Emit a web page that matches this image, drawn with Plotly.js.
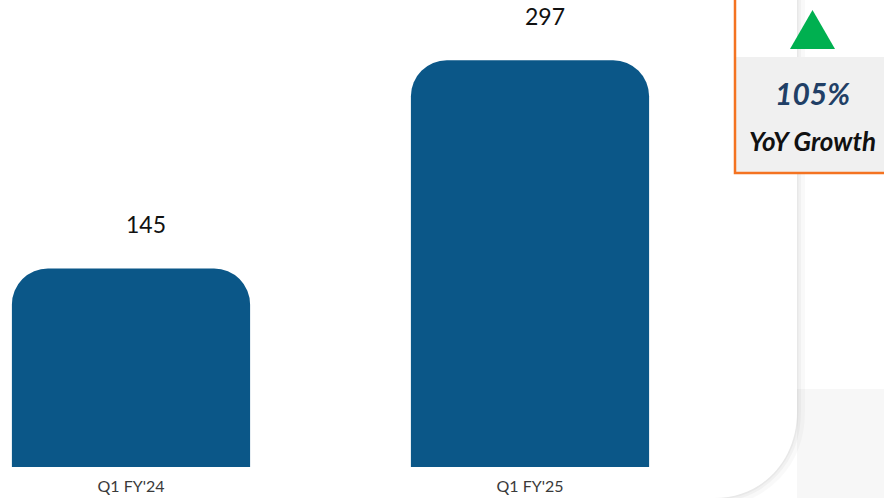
<!DOCTYPE html>
<html>
<head>
<meta charset="utf-8">
<script src="https://cdn.plot.ly/plotly-3.0.1.min.js"></script>
<style>html,body{margin:0;padding:0;background:#fff;}#chart{width:884px;height:498px;}</style>
</head>
<body>
<div id="chart"></div>
<script>
const categories = ["Q1 FY'24", "Q1 FY'25"];
const values = [145, 297];
const growthText = "105%";
const growthLabel = "YoY Growth";

const W = 884, H = 498, B = 31, PH = H - B;
const px = x => x / W;
const py = y => (PH - y) / PH;

const cardPath =
  'M ' + px(-10) + ',' + py(-10) +
  ' L ' + px(797) + ',' + py(-10) +
  ' L ' + px(797) + ',' + py(412) +
  ' C ' + px(797) + ',' + py(459) + ' ' + px(764) + ',' + py(498) + ' ' + px(714) + ',' + py(498) +
  ' L ' + px(-10) + ',' + py(498) + ' Z';

const shapes = [
  {type:'rect', xref:'paper', yref:'paper', x0:px(797), x1:px(890), y0:py(389), y1:py(505), fillcolor:'#f7f7f7', line:{width:0}, layer:'below'},
  {type:'path', xref:'paper', yref:'paper', path:cardPath, fillcolor:'rgba(0,0,0,0)', line:{color:'rgba(0,0,0,0.025)', width:16}, layer:'below'},
  {type:'path', xref:'paper', yref:'paper', path:cardPath, fillcolor:'rgba(0,0,0,0)', line:{color:'rgba(0,0,0,0.03)', width:8}, layer:'below'},
  {type:'path', xref:'paper', yref:'paper', path:cardPath, fillcolor:'rgba(0,0,0,0)', line:{color:'rgba(0,0,0,0.035)', width:3}, layer:'below'},
  {type:'path', xref:'paper', yref:'paper', path:cardPath, fillcolor:'#ffffff', line:{width:0}, layer:'below'},
  {type:'rect', xref:'paper', yref:'paper', x0:px(736), x1:px(890), y0:py(172), y1:py(57), fillcolor:'rgba(240,240,240,0.97)', line:{width:0}, layer:'above'},
  {type:'rect', xref:'paper', yref:'paper', x0:px(735), x1:px(892), y0:py(173), y1:py(-10), fillcolor:'rgba(0,0,0,0)', line:{color:'#f47321', width:2.5}, layer:'above'},
  {type:'path', xref:'paper', yref:'paper',
   path:'M ' + px(790) + ',' + py(49) + ' L ' + px(812.5) + ',' + py(10) + ' L ' + px(835) + ',' + py(49) + ' Z',
   fillcolor:'#00b050', line:{width:0}, layer:'above'}
];

const annotations = categories.map((c, i) => ({
  x: c, y: values[i], xref:'x', yref:'y', text: String(values[i]),
  showarrow:false, xanchor:'center', yanchor:'bottom', xshift: 15, yshift: 29, borderpad:0,
  font:{family:'Lato, sans-serif', size:23, color:'#111'}
}));
annotations.push({
  x: px(812), y: py(93), xref:'paper', yref:'paper', text:'<b><i>' + growthText + '</i></b>',
  xanchor:'center', yanchor:'middle',
  showarrow:false, font:{family:'Lato, sans-serif', size:30, color:'#213f66'}
});
annotations.push({
  x: px(812), y: py(141), xref:'paper', yref:'paper', text:'<b><i>' + growthLabel + '</i></b>',
  xanchor:'center', yanchor:'middle',
  showarrow:false, font:{family:'Lato, sans-serif', size:26, color:'#111'}
});

const trace = {
  type:'bar', x: categories, y: values,
  marker:{color:'#0b5788', cornerradius:36, line:{width:0}},
  hoverinfo:'none', showlegend:false
};

const layout = {
  width: W, height: H,
  margin:{l:0, r:0, t:0, b:B, pad:0},
  paper_bgcolor:'#ffffff', plot_bgcolor:'rgba(0,0,0,0)',
  bargap: 0.403,
  xaxis:{type:'category', range:[-131/399, -131/399 + W/399], showgrid:false, zeroline:false, showline:false,
         ticks:'', ticklabelstandoff:8, tickfont:{family:'Lato, sans-serif', size:16, color:'#3a3a3a'}, fixedrange:true},
  yaxis:{range:[0, 341], visible:false, showgrid:false, zeroline:false, fixedrange:true},
  shapes: shapes,
  annotations: annotations
};

Plotly.newPlot('chart', [trace], layout, {displayModeBar:false, staticPlot:true});
</script>
</body>
</html>
